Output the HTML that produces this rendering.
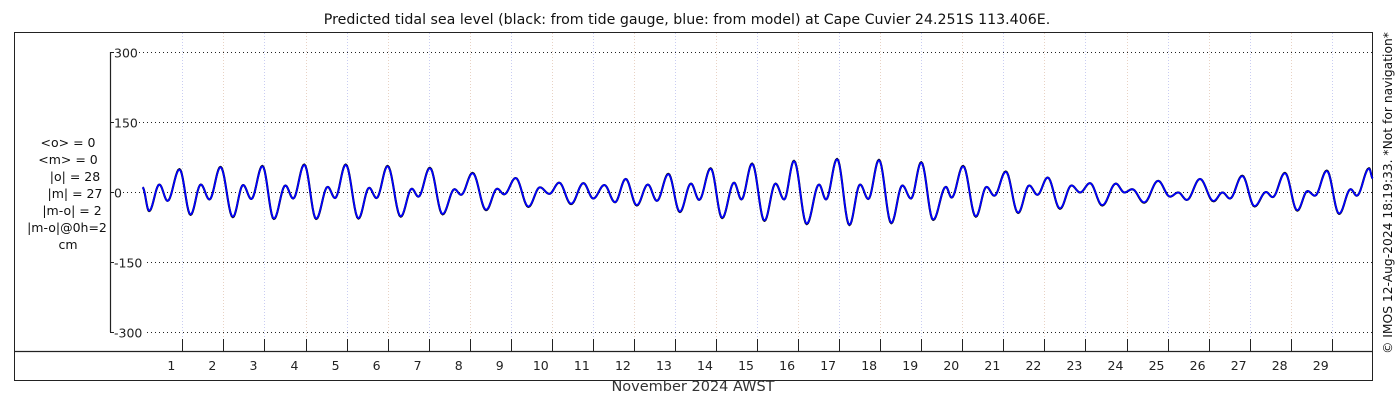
<!DOCTYPE html>
<html><head><meta charset="utf-8"><style>
html,body{margin:0;padding:0;background:#fff;}
svg{display:block;font-family:"DejaVu Sans","Liberation Sans",sans-serif;}
</style></head><body>
<svg id="chart" width="1400" height="400" viewBox="0 0 1400 400" xmlns="http://www.w3.org/2000/svg">
<text x="687" y="24" font-size="14.2" text-anchor="middle" fill="#111">Predicted tidal sea level (black: from tide gauge, blue: from model) at Cape Cuvier 24.251S 113.406E.</text>
<rect x="14.5" y="32.5" width="1358" height="348" fill="none" stroke="#222" stroke-width="1"/>
<line x1="14" y1="351.5" x2="1372" y2="351.5" stroke="#222" stroke-width="1.2"/>
<g id="grid"></g>
<g id="yaxis"></g>
<g id="xaxis"></g>
<g id="series"></g>
<g font-size="12.5" text-anchor="middle" fill="#111">
<text x="68" y="147">&lt;o&gt; = 0</text>
<text x="68" y="164">&lt;m&gt; = 0</text>
<text x="75" y="181">|o| = 28</text>
<text x="75" y="198">|m| = 27</text>
<text x="72" y="215">|m-o| = 2</text>
<text x="67" y="232">|m-o|@0h=2</text>
<text x="68" y="249">cm</text>
</g>
<text x="693" y="391" font-size="14.5" text-anchor="middle" fill="#333">November 2024 AWST</text>
<text transform="translate(1392,193) rotate(-90)" font-size="12.3" text-anchor="middle" fill="#111">© IMOS 12-Aug-2024 18:19:33. *Not for navigation*</text>
</svg>
<script>
// data (time in days since 1 Nov 2024 00:00 AWST, level in cm)
const yTicks = [300, 150, 0, -150, -300];
const dayLabels = [1,2,3,4,5,6,7,8,9,10,11,12,13,14,15,16,17,18,19,20,21,22,23,24,25,26,27,28,29];
const extremaTime = [0.03,0.19,0.44,0.64,0.93,1.20,1.45,1.66,1.93,2.23,2.48,2.68,2.95,3.23,3.51,3.70,3.97,4.26,4.54,4.72,4.98,5.29,5.55,5.73,6.00,6.32,6.59,6.75,7.03,7.34,7.63,7.79,8.07,8.40,8.67,8.84,9.12,9.43,9.71,9.94,10.18,10.47,10.77,11.01,11.28,11.54,11.80,12.07,12.34,12.56,12.84,13.12,13.39,13.59,13.87,14.15,14.44,14.62,14.88,15.18,15.45,15.66,15.90,16.21,16.51,16.68,16.95,17.25,17.51,17.71,17.97,18.27,18.54,18.75,19.00,19.29,19.60,19.74,20.02,20.33,20.59,20.78,21.06,21.36,21.63,21.83,22.08,22.38,22.66,22.87,23.11,23.41,23.74,23.95,24.14,24.43,24.77,25.06,25.26,25.47,25.79,26.12,26.34,26.52,26.82,27.12,27.40,27.56,27.86,28.16,28.41,28.59,28.88,29.18,29.46,29.61,29.91,30.0];
const levelGauge = [10,-41,16,-19,49,-49,16,-16,54,-54,15,-15,56,-58,14,-14,59,-58,11,-13,59,-57,9,-13,56,-53,7,-10,52,-48,6,-6,41,-39,7,-5,30,-32,10,-4,20,-26,19,-14,15,-22,28,-29,16,-19,39,-43,18,-17,51,-56,20,-16,61,-62,18,-16,67,-69,16,-16,71,-71,16,-15,69,-67,14,-14,64,-60,11,-12,56,-53,11,-8,44,-45,14,-6,31,-36,14,-1,19,-29,18,-1,6,-23,24,-10,-1,-17,28,-20,-1,-14,35,-31,0,-11,41,-40,2,-8,46,-47,6,-8,51,29];
const levelModel = [10,-40,16,-19,48,-48,16,-16,53,-53,15,-15,55,-57,14,-14,58,-57,11,-13,58,-56,9,-13,55,-52,7,-10,51,-47,6,-6,40,-38,7,-5,30,-31,10,-4,20,-25,19,-14,15,-22,28,-28,16,-19,38,-42,18,-17,50,-55,20,-16,60,-61,18,-16,66,-68,16,-16,70,-70,16,-15,68,-66,14,-14,63,-59,11,-12,55,-52,11,-8,43,-44,14,-6,31,-35,14,-1,19,-28,18,-1,6,-22,24,-10,-1,-17,28,-19,-1,-14,34,-30,0,-11,40,-39,2,-8,45,-46,6,-8,50,29];

const NS = 'http://www.w3.org/2000/svg';
const X0 = 141.3, DAYW = 41.05, Y0 = 192, YS = 70/150;
function xScale(t){ return X0 + t*DAYW; }
function yScale(v){ return Y0 - v*YS; }
function mk(tag, attrs, parent){ const e=document.createElementNS(NS,tag); for(const k in attrs) e.setAttribute(k, attrs[k]); parent.appendChild(e); return e; }

const grid = document.getElementById('grid');
const yaxis = document.getElementById('yaxis');
const xaxis = document.getElementById('xaxis');
const series = document.getElementById('series');

for (let d = 1; d <= 29; d++) {
  const x = Math.round(xScale(d)) + 0.5;
  const g = mk('line', {x1:x, y1:33, x2:x, y2:339, stroke: d%2 ? '#c9cdf2' : '#e8d2c4', 'stroke-width':1, 'stroke-dasharray':'1,2'}, grid);
  
  
  const tk = mk('line', {x1:x, y1:339, x2:x, y2:351, stroke:'#222', 'stroke-width':1}, xaxis);
  
  
}
dayLabels.forEach(function(d){
  const t = mk('text', {x: xScale(d) - 11, y: 370, 'font-size': 12.5, 'text-anchor':'middle', fill:'#222'}, xaxis);
  t.textContent = d;
  
  
});

const spine = mk('line', {x1:110.5, y1:yScale(300), x2:110.5, y2:yScale(-300), stroke:'#222', 'stroke-width':1.2}, yaxis);


yTicks.forEach(function(v){
  const y = Math.round(yScale(v)) + 0.5;
  const lbl = String(v);
  const textW = lbl.length * 8;
  const gx = 115 + textW;
  const gl = mk('line', {x1:gx, y1:y, x2:1372, y2:y, stroke:'#222', 'stroke-width':1, 'stroke-dasharray':'1,3'}, grid);
  
  
  const tk = mk('line', {x1:110, y1:y, x2:114, y2:y, stroke:'#222', 'stroke-width':1}, yaxis);
  
  
  const t = mk('text', {x:114, y:y+5, 'font-size':12.5, fill:'#222'}, yaxis);
  t.textContent = lbl;
  
  
});

function curvePath(times, vals){
  let d = 'M' + xScale(times[0]).toFixed(2) + ',' + yScale(vals[0]).toFixed(2);
  for (let i = 1; i < times.length; i++) {
    const t0 = times[i-1], t1 = times[i], v0 = vals[i-1], v1 = vals[i];
    const n = 10;
    for (let k = 1; k <= n; k++) {
      const f = k/n;
      const t = t0 + (t1-t0)*f;
      const v = v0 + (v1-v0)*(1-Math.cos(Math.PI*f))/2;
      d += 'L' + xScale(t).toFixed(2) + ',' + yScale(v).toFixed(2);
    }
  }
  return d;
}
const gauge = mk('path', {d: curvePath(extremaTime, levelGauge), fill:'none', stroke:'#000', 'stroke-width':2.1, 'stroke-linejoin':'round'}, series);


const model = mk('path', {d: curvePath(extremaTime, levelModel), fill:'none', stroke:'#0000ff', 'stroke-width':1.7, 'stroke-linejoin':'round'}, series);


</script>
</body></html>
